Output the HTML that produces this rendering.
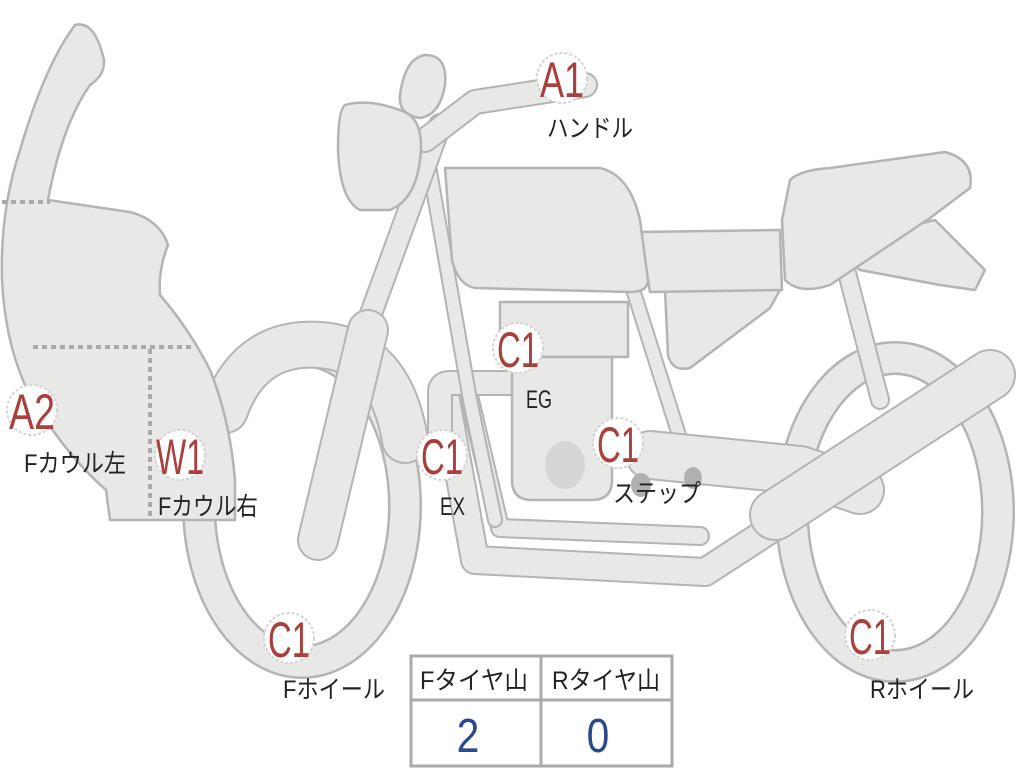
<!DOCTYPE html>
<html><head><meta charset="utf-8"><style>
body{margin:0;background:#fff;}
svg{display:block}
text{font-family:"Liberation Sans","Noto Sans CJK JP",sans-serif}
</style></head><body>
<svg width="1024" height="768" viewBox="0 0 1024 768" xmlns="http://www.w3.org/2000/svg">
<defs>
<style>
.o{fill:none;stroke:#b4b4b4;stroke-linecap:round;stroke-linejoin:round}
.f{fill:none;stroke:#e8e8e6;stroke-linecap:round;stroke-linejoin:round}
.s{fill:#e8e8e6;stroke:#b4b4b4;stroke-width:2.5;stroke-linejoin:round}
.lb{fill:#fff;stroke:#d4d4d4;stroke-width:2;stroke-dasharray:3 2}
.r{fill:#a8403d;font-size:50px}
.k{fill:#222;font-size:25px}
</style>
</defs>
<ellipse cx="302" cy="506" rx="103" ry="156" class="o" stroke-width="34"/>
<ellipse cx="302" cy="506" rx="103" ry="156" class="f" stroke-width="29"/>
<ellipse cx="895" cy="512" rx="103" ry="154" class="o" stroke-width="34"/>
<ellipse cx="895" cy="512" rx="103" ry="154" class="f" stroke-width="29"/>
<path d="M225 410 Q250 340 320 345 Q390 350 405 440" class="o" stroke-width="48"/>
<path d="M225 410 Q250 340 320 345 Q390 350 405 440" class="f" stroke-width="44"/>
<path d="M445 395 L475 560 L705 572 L785 520" class="o" stroke-width="30"/>
<path d="M445 395 L475 560 L705 572 L785 520" class="f" stroke-width="26"/>
<path d="M470 400 L500 528 L700 536" class="o" stroke-width="20"/>
<path d="M470 400 L500 528 L700 536" class="f" stroke-width="16"/>
<path d="M440 440 L440 392 Q440 383 450 383 L520 383" class="o" stroke-width="26"/>
<path d="M440 440 L440 392 Q440 383 450 383 L520 383" class="f" stroke-width="22"/>
<path d="M428 160 L470 400 L495 520" class="o" stroke-width="16"/>
<path d="M428 160 L470 400 L495 520" class="f" stroke-width="12"/>
<path d="M630 280 L690 470" class="o" stroke-width="16"/>
<path d="M630 280 L690 470" class="f" stroke-width="12"/>
<path d="M845 265 L880 400" class="o" stroke-width="20"/>
<path d="M845 265 L880 400" class="f" stroke-width="16"/>
<path d="M650 455 L800 470 L860 490" class="o" stroke-width="50"/>
<path d="M650 455 L800 470 L860 490" class="f" stroke-width="46"/>
<path d="M775 515 L990 375" class="o" stroke-width="52"/>
<path d="M775 515 L990 375" class="f" stroke-width="48"/>
<rect x="500" y="302" width="128" height="55" class="s"/>
<path d="M512 357 L612 357 L612 480 Q612 500 592 500 L532 500 Q512 500 512 480 Z" class="s"/>
<ellipse cx="565" cy="465" rx="20" ry="24" fill="#d6d6d6"/>
<ellipse cx="641" cy="485" rx="10" ry="12" fill="#b0b0b0"/>
<ellipse cx="693" cy="478" rx="9" ry="11" fill="#b0b0b0"/>
<path d="M665 290 L780 290 L770 308 L690 368 Q672 372 668 355 Z" class="s"/>
<path d="M640 232 L780 230 L782 290 L650 292 Z" class="s"/>
<path d="M830 245 L935 220 L985 270 L975 290 L940 285 L860 270 Z" class="s"/>
<path d="M790 180 Q800 170 830 168 L945 152 Q975 160 970 188 L930 218 L830 285 Q800 295 785 280 L782 220 Z" class="s"/>
<path d="M445 168 L600 168 Q630 175 640 220 L648 280 Q648 292 630 292 L475 288 Q458 285 452 260 Z" class="s"/>
<path d="M440 125 L365 330" class="o" stroke-width="24"/>
<path d="M440 125 L365 330" class="f" stroke-width="20"/>
<path d="M368 330 L318 540" class="o" stroke-width="42"/>
<path d="M368 330 L318 540" class="f" stroke-width="38"/>
<path d="M425 140 L475 102 L585 85" class="o" stroke-width="26"/>
<path d="M425 140 L475 102 L585 85" class="f" stroke-width="22"/>
<path d="M400 95 Q405 58 425 55 Q448 55 445 85 Q440 115 420 118 Q398 115 400 95 Z" class="s"/>
<path d="M345 105 Q370 98 405 112 Q425 122 420 160 Q415 200 390 210 L360 210 Q340 200 338 150 Q338 110 345 105 Z" class="s"/>
<path d="M75 25 Q95 20 104 60 Q105 75 90 85 Q62 125 48 200 L130 212 Q160 220 168 245 Q158 270 160 295 Q190 330 210 370 Q230 420 235 480 L235 520 L110 520 L106 490 Q60 450 25 385 Q5 340 2 280 Q0 210 20 150 Q45 65 75 25 Z" class="s"/>
<path d="M2 202 H50" stroke="#aaa" stroke-width="4" stroke-dasharray="5 4"/>
<path d="M33 347 H192" stroke="#aaa" stroke-width="4" stroke-dasharray="5 4"/>
<path d="M150 349 V520" stroke="#aaa" stroke-width="4" stroke-dasharray="5 4"/>
<g>
<circle cx="562" cy="78" r="25" class="lb"/><text x="540" y="97" textLength="44" lengthAdjust="spacingAndGlyphs" class="r">A1</text>
<text x="547" y="137" textLength="86" lengthAdjust="spacingAndGlyphs" class="k">ハンドル</text>
<circle cx="32" cy="410" r="25" class="lb"/><text x="9" y="429" textLength="46" lengthAdjust="spacingAndGlyphs" class="r">A2</text>
<text x="24" y="472" textLength="102" lengthAdjust="spacingAndGlyphs" class="k">Fカウル左</text>
<circle cx="180" cy="455" r="25" class="lb"/><text x="156" y="474" textLength="48" lengthAdjust="spacingAndGlyphs" class="r">W1</text>
<text x="158" y="515" textLength="100" lengthAdjust="spacingAndGlyphs" class="k">Fカウル右</text>
<circle cx="518" cy="348" r="25" class="lb"/><text x="497" y="367" textLength="42" lengthAdjust="spacingAndGlyphs" class="r">C1</text>
<text x="526" y="408" textLength="26" lengthAdjust="spacingAndGlyphs" class="k">EG</text>
<circle cx="442" cy="455" r="25" class="lb"/><text x="421" y="474" textLength="42" lengthAdjust="spacingAndGlyphs" class="r">C1</text>
<text x="440" y="515" textLength="25" lengthAdjust="spacingAndGlyphs" class="k">EX</text>
<circle cx="618" cy="443" r="25" class="lb"/><text x="597" y="462" textLength="42" lengthAdjust="spacingAndGlyphs" class="r">C1</text>
<text x="613" y="502" textLength="88" lengthAdjust="spacingAndGlyphs" class="k">ステップ</text>
<circle cx="289" cy="638" r="25" class="lb"/><text x="268" y="657" textLength="42" lengthAdjust="spacingAndGlyphs" class="r">C1</text>
<text x="283" y="698" textLength="102" lengthAdjust="spacingAndGlyphs" class="k">Fホイール</text>
<circle cx="870" cy="635" r="25" class="lb"/><text x="849" y="654" textLength="42" lengthAdjust="spacingAndGlyphs" class="r">C1</text>
<text x="870" y="698" textLength="104" lengthAdjust="spacingAndGlyphs" class="k">Rホイール</text>
</g>
<rect x="411" y="656" width="261" height="110" fill="#fff" stroke="#aaa" stroke-width="3"/>
<line x1="411" y1="700" x2="672" y2="700" stroke="#aaa" stroke-width="3"/>
<line x1="541" y1="656" x2="541" y2="766" stroke="#aaa" stroke-width="3"/>
<text x="420" y="689" textLength="108" lengthAdjust="spacingAndGlyphs" class="k">Fタイヤ山</text>
<text x="552" y="689" textLength="108" lengthAdjust="spacingAndGlyphs" class="k">Rタイヤ山</text>
<text x="468" y="752" text-anchor="middle" font-size="48" fill="#2b4a8c" transform="translate(468 0) scale(0.85 1) translate(-468 0)">2</text>
<text x="598" y="752" text-anchor="middle" font-size="48" fill="#2b4a8c" transform="translate(598 0) scale(0.85 1) translate(-598 0)">0</text>
</svg>
</body></html>
